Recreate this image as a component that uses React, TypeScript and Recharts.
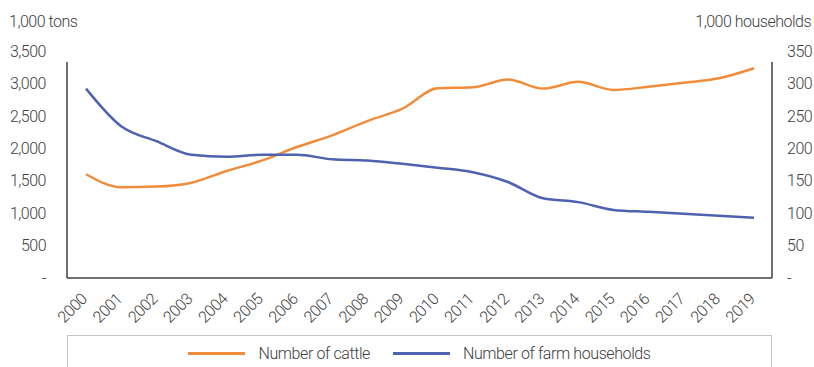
import React from 'react';
import { LineChart, Line, XAxis, YAxis, Legend } from 'recharts';

// Years on the category axis
const years = [
  '2000', '2001', '2002', '2003', '2004', '2005', '2006', '2007', '2008', '2009',
  '2010', '2011', '2012', '2013', '2014', '2015', '2016', '2017', '2018', '2019',
];

// Number of cattle, 1,000 tons (left axis)
const cattle = [
  1600, 1400, 1410, 1470, 1650, 1810, 2020, 2200, 2420, 2610,
  2925, 2940, 3060, 2920, 3025, 2900, 2950, 3010, 3080, 3235,
];

// Number of farm households, 1,000 households (right axis)
const households = [
  292, 234, 211, 190, 187, 190, 190, 183, 181, 176,
  170, 163, 148, 123, 117, 105, 102, 99, 96, 93,
];

const leftTicks = [0, 500, 1000, 1500, 2000, 2500, 3000, 3500];
const rightTicks = [0, 50, 100, 150, 200, 250, 300, 350];

const data = years.map((year, i) => ({
  year,
  cattle: cattle[i],
  households: households[i],
}));

const ORANGE = '#F08C3A';
const BLUE = '#4D62B0';
const TEXT = '#404040';
const FONT = 'Roboto, sans-serif';

const fmt = (v: number) => (v === 0 ? '-' : v.toLocaleString('en-US'));

const YearTick = (props: any) => {
  const { x, y, payload } = props;
  const px = x + 2;
  const py = y + 14;
  return (
    <text
      x={px}
      y={py}
      transform={`rotate(-45, ${px}, ${py})`}
      textAnchor="end"
      fill={TEXT}
      fontSize={16}
      fontWeight={300}
      fontFamily={FONT}
      letterSpacing={-0.5}
    >
      {payload.value}
    </text>
  );
};

const LegendBox = () => {
  const items = [
    { name: 'Number of cattle', color: ORANGE },
    { name: 'Number of farm households', color: BLUE },
  ];
  return (
    <div
      style={{
        width: 705,
        height: 42,
        boxSizing: 'border-box',
        border: '1.5px solid #C4C4C4',
        display: 'flex',
        justifyContent: 'center',
        alignItems: 'center',
        paddingBottom: 6,
        fontFamily: FONT,
        fontWeight: 300,
        fontSize: 16,
        letterSpacing: -0.4,
        color: TEXT,
      }}
    >
      {items.map((it, i) => (
        <div
          key={it.name}
          style={{ display: 'flex', alignItems: 'center', marginLeft: i === 0 ? 0 : 23 }}
        >
          <div style={{ width: 57, height: 3, background: it.color, marginRight: 13 }} />
          <span>{it.name}</span>
        </div>
      ))}
    </div>
  );
};

const axisText = {
  fill: TEXT,
  fontSize: 16,
  fontWeight: 300,
  fontFamily: FONT,
  letterSpacing: -0.5,
};

export default function App() {
  return (
    <div
      style={{
        position: 'absolute',
        left: 0,
        top: 0,
        width: 814,
        height: 367,
        overflow: 'hidden',
        background: '#fff',
      }}
    >
      <LineChart
        width={814}
        height={367}
        data={data}
        margin={{ top: 51, right: 0, bottom: 29, left: 0 }}
      >
        <XAxis
          dataKey="year"
          tickLine={false}
          axisLine={{ stroke: '#404040', strokeWidth: 1.5 }}
          interval={0}
          height={60}
          padding={{ left: 19, right: 18 }}
          tick={<YearTick />}
        />
        <YAxis
          yAxisId="left"
          orientation="left"
          width={67}
          domain={[0, 3500]}
          ticks={leftTicks}
          tickFormatter={fmt}
          tickLine={false}
          tickMargin={15}
          axisLine={{ stroke: '#404040', strokeWidth: 1.5, strokeDasharray: '0 11 400' }}
          tick={axisText}
          label={{
            content: () => (
              <text x={9} y={27} {...axisText} textAnchor="start">
                1,000 tons
              </text>
            ),
          }}
        />
        <YAxis
          yAxisId="right"
          orientation="right"
          width={42}
          domain={[0, 350]}
          ticks={rightTicks}
          tickFormatter={fmt}
          tickLine={false}
          tickMargin={9}
          axisLine={{ stroke: '#404040', strokeWidth: 1.5, strokeDasharray: '0 11 400' }}
          tick={axisText}
          label={{
            content: () => (
              <text x={811} y={27} {...axisText} textAnchor="end">
                1,000 households
              </text>
            ),
          }}
        />
        <Legend
          layout="horizontal"
          verticalAlign="middle"
          align="center"
          wrapperStyle={{ top: 335, left: 67, width: 705 }}
          content={<LegendBox />}
        />
        <Line
          yAxisId="left"
          type="monotone"
          dataKey="cattle"
          name="Number of cattle"
          stroke={ORANGE}
          strokeWidth={2.5}
          dot={false}
          isAnimationActive={false}
        />
        <Line
          yAxisId="right"
          type="monotone"
          dataKey="households"
          name="Number of farm households"
          stroke={BLUE}
          strokeWidth={2.5}
          dot={false}
          isAnimationActive={false}
        />
      </LineChart>
    </div>
  );
}
